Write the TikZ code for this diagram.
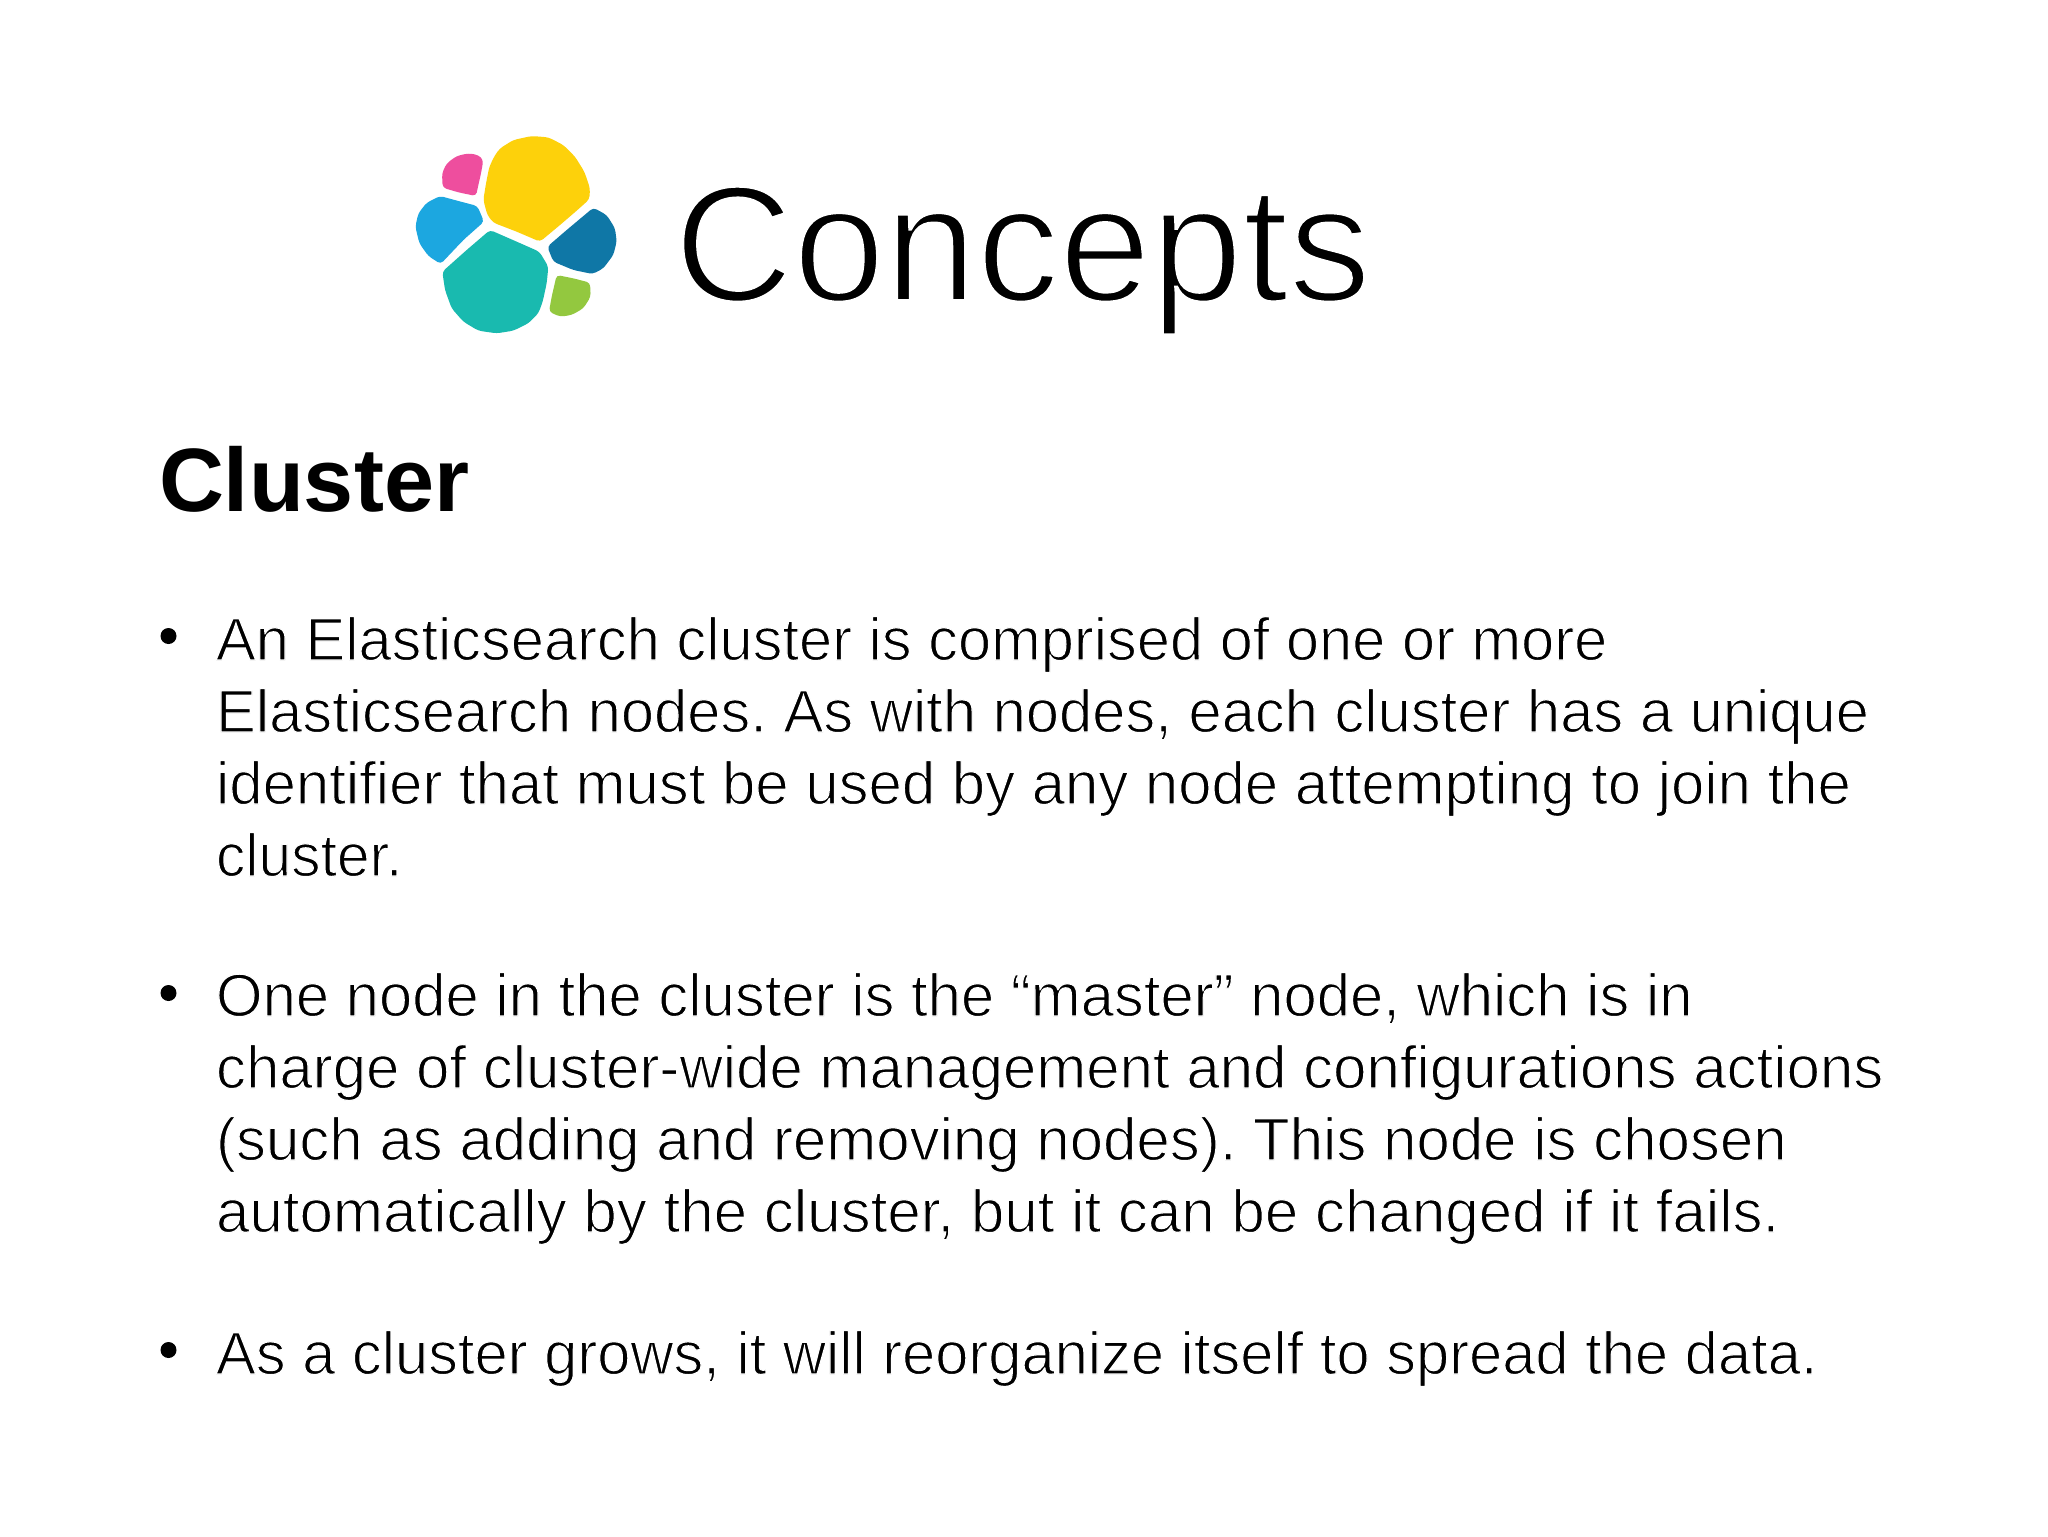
\documentclass[tikz,border=0pt]{standalone}
\usepackage{graphicx}
\usepackage{fontspec}
\setmainfont{Liberation Sans}
\definecolor{lyellow}{HTML}{FDD10B}
\definecolor{lpink}{HTML}{EE4E9E}
\definecolor{lblue}{HTML}{1CA7E0}
\definecolor{lteal}{HTML}{19BAAF}
\definecolor{ldark}{HTML}{0F77A6}
\definecolor{lgreen}{HTML}{93C83F}
\newcommand{\thinned}[2]{\special{pdf:code 2 Tr #1 w 1 1 1 RG}#2\special{pdf:code 0 Tr 1 w}}
\newcommand{\bodytxt}[2]{\scalebox{#1}[1]{\thinned{0.6}{#2}}}
\frenchspacing
\tikzset{x=0.5pt,y=-0.5pt,
 line/.style={anchor=base west,inner sep=0pt,outer sep=0pt,text=black,font=\fontsize{30}{36}\selectfont},
 dot/.style={circle,fill=black,minimum size=8pt,inner sep=0pt},
 blob/.style={rounded corners=1.8pt}}
\begin{document}
\begin{tikzpicture}
\useasboundingbox[fill=white] (0,0) rectangle (2048,1536);
\begin{scope}[x=0.16667pt,y=-0.16667pt,shift={(1200,360)}]
\fill[lyellow,blob] (300,85)--(340,60)--(395,48)--(445,52)--(490,75)--(525,110)--(553,155)--(570,205)--(568,238)--(530,272)--(480,315)--(420,365)--(350,335)--(280,308)--(262,285)--(250,240)--(258,190)--(268,140)--(285,105)--cycle;
\fill[lpink,blob] (205,100)--(235,105)--(250,120)--(243,160)--(235,195)--(228,228)--(175,217)--(128,203)--(126,160)--(140,130)--(170,108)--cycle;
\fill[lblue,blob] (120,228)--(175,243)--(232,258)--(252,305)--(190,360)--(122,432)--(85,408)--(58,370)--(46,320)--(55,280)--(80,248)--cycle;
\fill[lteal,blob] (270,330)--(350,365)--(418,395)--(445,440)--(440,490)--(428,545)--(415,580)--(385,610)--(340,632)--(290,640)--(235,632)--(190,605)--(155,565)--(135,510)--(127,455)--(200,390)--cycle;
\fill[ldark,blob] (580,263)--(620,285)--(645,325)--(650,365)--(640,405)--(610,445)--(578,462)--(520,450)--(460,425)--(442,380)--(500,330)--cycle;
\fill[lgreen,blob] (470,465)--(520,475)--(570,488)--(572,530)--(550,565)--(515,585)--(480,590)--(447,575)--(455,530)--cycle;
\end{scope}
\node[line,font=\fontsize{82.5}{90}\selectfont] (t) at (674,301) {\thinned{1.9}{Concepts}};
\node[line,font=\fontsize{45}{50}\bfseries\selectfont] (c) at (159,511) {Cluster};
\node[line] (a1) at (216,660) {\bodytxt{.9935}{An Elasticsearch cluster is comprised of one or more}};
\node[line] (a2) at (216,732) {\bodytxt{.9953}{Elasticsearch nodes. As with nodes, each cluster has a unique}};
\node[line] (a3) at (216,804) {\bodytxt{.9984}{identifier that must be used by any node attempting to join the}};
\node[line] (a4) at (216,876) {\bodytxt{.98}{cluster.}};
\node[line] (b1) at (216,1016) {\bodytxt{.9973}{One node in the cluster is the “master” node, which is in}};
\node[line] (b2) at (216,1088) {\bodytxt{1}{charge of cluster-wide management and configurations actions}};
\node[line] (b3) at (216,1160) {\bodytxt{1}{(such as adding and removing nodes). This node is chosen}};
\node[line] (b4) at (216,1232) {\bodytxt{1.0017}{automatically by the cluster, but it can be changed if it fails.}};
\node[line] (c1) at (216,1374) {\bodytxt{.9943}{As a cluster grows, it will reorganize itself to spread the data.}};
\node[dot] (d1) at (168.5,636) {};
\node[dot] (d2) at (168.5,993) {};
\node[dot] (d3) at (168.5,1350) {};
\end{tikzpicture}
\end{document}
